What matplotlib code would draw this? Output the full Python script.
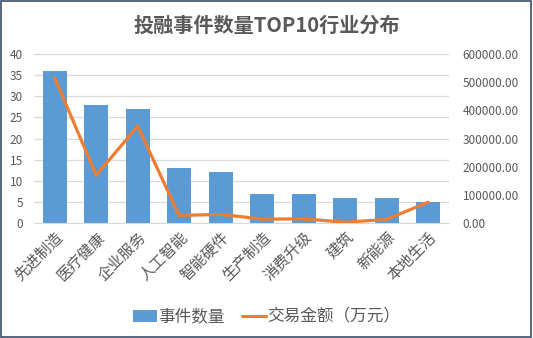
import matplotlib.pyplot as plt
from matplotlib.patches import Rectangle

plt.rcParams['font.family'] = ['Noto Sans CJK SC', 'DejaVu Sans']

industries = ["先进制造", "医疗健康", "企业服务", "人工智能", "智能硬件",
              "生产制造", "消费升级", "建筑", "新能源", "本地生活"]
event_counts = [36, 28, 27, 13, 12, 7, 7, 6, 6, 5]
deal_amounts = [515000, 170000, 344000, 27000, 31000, 14000, 15000, 3000, 13000, 74000]

left_ticks = [0, 5, 10, 15, 20, 25, 30, 35, 40]
right_ticks = [0, 100000, 200000, 300000, 400000, 500000, 600000]

BAR = "#5B9BD5"
LINE = "#ED7D31"
TXT = "#595959"
GRID = "#D9D9D9"

fig = plt.figure(figsize=(5.33, 3.38), dpi=100)
ax = fig.add_axes([0.0638, 0.340, 0.7782, 0.500])
ax2 = ax.twinx()

x = list(range(len(industries)))
bars = ax.bar(x, event_counts, width=0.58, color=BAR, zorder=2)
line, = ax2.plot(x, deal_amounts, color=LINE, lw=2.3, solid_capstyle="round", zorder=3)

ax.set_xlim(-0.5, len(industries) - 0.5)
ax.set_ylim(0, 40)
ax2.set_ylim(0, 600000)
ax.set_yticks(left_ticks)
ax2.set_yticks(right_ticks)
ax2.set_yticklabels([f"{v:.2f}" for v in right_ticks])
ax.grid(axis="y", color=GRID, lw=0.9, zorder=0)
ax.set_axisbelow(True)

for a in (ax, ax2):
    for s in a.spines.values():
        s.set_visible(False)
    a.tick_params(length=0, labelcolor=TXT, labelsize=8.5)
ax.spines["bottom"].set_visible(True)
ax.spines["bottom"].set_color(GRID)
ax.tick_params(axis="y", pad=8)
ax2.tick_params(axis="y", pad=10)

ax.set_xticks(x)
ax.set_xticklabels(industries, rotation=45, ha="right", va="top",
                   rotation_mode="anchor", fontsize=11, color=TXT)
ax.tick_params(axis="x", pad=4)

fig.text(0.5, 0.925, "投融事件数量TOP10行业分布", ha="center", va="center",
         fontsize=14.5, fontweight="bold", color=TXT)

fig.legend([bars, line], ["事件数量", "交易金额（万元）"], loc="center",
           bbox_to_anchor=(0.5, 0.062), ncol=2, frameon=False, fontsize=12,
           labelcolor=TXT, handlelength=1.45, handletextpad=0.1, columnspacing=1.0)

fig.patches.append(Rectangle((0.001, 0.002), 0.995, 0.996, transform=fig.transFigure,
                             fill=False, edgecolor="#3B4E6B", lw=1.2))

fig.savefig("out.png", dpi=100)
